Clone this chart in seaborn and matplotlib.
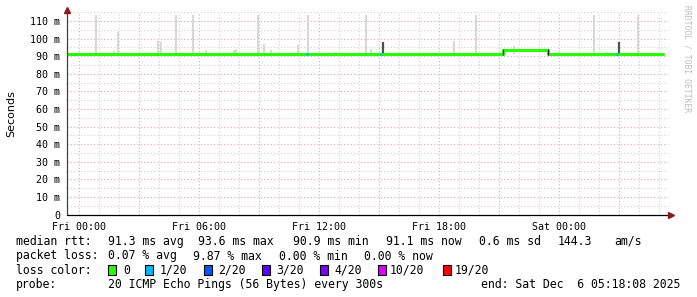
import matplotlib
matplotlib.use("Agg")
import matplotlib.pyplot as plt
from matplotlib.patches import Rectangle
import seaborn as sns
import numpy as np
import pandas as pd

# ---------------- data (hours since Fri 00:00) ----------------
median_hours = [-0.6, 21.2, 23.45, 29.18]
median_rtt = [91.2, 93.5, 91.2, 91.2]

smoke_hours = [0.825, 1.725, 1.925, 3.925, 4.075, 4.825, 5.675, 6.325, 7.725, 7.825,
               8.925, 9.225, 9.575, 10.925, 11.425, 12.825, 14.325, 14.575, 18.725,
               19.825, 21.725, 25.725, 26.375, 27.95]
smoke_tops = [113.4, 93.0, 104.0, 98.6, 98.0, 113.4, 113.4, 93.5, 93.5, 94.0,
              113.4, 97.0, 93.5, 96.4, 113.4, 92.5, 113.4, 94.0, 98.6,
              113.4, 95.8, 113.4, 92.5, 113.4]

dark_hours = [15.175, 26.975]
dark_tops = [98.0, 98.0]

loss_hours = [11.4, 15.1, 26.9]

xtick_hours = [0, 6, 12, 18, 24]
xtick_labels = ["Fri 00:00", "Fri 06:00", "Fri 12:00", "Fri 18:00", "Sat 00:00"]
ytick_vals = [0, 10, 20, 30, 40, 50, 60, 70, 80, 90, 100, 110]
ytick_labels = ["0"] + [f"{v} m" for v in ytick_vals[1:]]

loss_labels = ["0", "1/20", "2/20", "3/20", "4/20", "10/20", "19/20"]
loss_colors = ["#26ff00", "#00b8ff", "#0059ff", "#5e00ff", "#7e00ff", "#dd00ff", "#ff0000"]

# ---------------- figure ----------------
sns.set_theme(style="white")
plt.rcParams["font.family"] = ["DejaVu Sans Mono"]

W, H = 697, 297
fig = plt.figure(figsize=(W / 100, H / 100), dpi=100)
fig.patch.set_facecolor("white")

x_left_px, x_right_px = 67, 668
y_zero_px, y_top_px = 214.6, 12.2
ax = fig.add_axes([x_left_px / W, (H - y_zero_px) / H,
                   (x_right_px - x_left_px) / W, (y_zero_px - y_top_px) / H])
ax.set_facecolor("white")
xmin, xmax = -0.6, 29.45
ax.set_xlim(xmin, xmax)
ax.set_ylim(0, 115)

# grid
dot = (0, (1, 2))
for h in np.arange(0, 30, 1):
    major = (h % 3 == 0)
    ax.axvline(h, color="#E3A8A8" if major else "#D0D0D0", lw=0.8, ls=dot, zorder=0)
for v in np.arange(5, 116, 5):
    major = (v % 10 == 0)
    ax.axhline(v, color="#E3A8A8" if major else "#D0D0D0", lw=0.8, ls=dot, zorder=0)

# smoke
ax.vlines(smoke_hours, [median_rtt[0]] * len(smoke_hours), smoke_tops,
          colors="#D8D8D8", lw=1.5, zorder=1)
ax.vlines(dark_hours, [median_rtt[0]] * len(dark_hours), dark_tops,
          colors="#505050", lw=1.6, zorder=1)

# median line
df = pd.DataFrame({"hour": median_hours, "rtt": median_rtt})
sns.lineplot(data=df, x="hour", y="rtt", ax=ax, color=loss_colors[0], lw=2.2,
             drawstyle="steps-post", zorder=3, sort=False)
ax.vlines([median_hours[1], median_hours[2]], median_rtt[0] - 0.8, median_rtt[1] + 0.5,
          colors="#202020", lw=0.9, zorder=4)
for lh in loss_hours:
    ax.hlines(median_rtt[0], lh - 0.07, lh + 0.07, colors=loss_colors[1], lw=2.2, zorder=5)

# axes cosmetics
for s in ax.spines.values():
    s.set_visible(False)
ax.plot([xmin, xmin], [0, 116.5], color="#404040", lw=0.9, clip_on=False, zorder=6)
ax.plot([xmin, 29.5], [0, 0], color="black", lw=0.9, clip_on=False, zorder=6)
ax.plot([xmin], [116.5], marker="^", color="#8B1A1A", ms=4, clip_on=False, zorder=7)
ax.plot([29.6], [0], marker=">", color="#8B1A1A", ms=4, clip_on=False, zorder=7)

ax.set_xticks(xtick_hours)
ax.set_xticklabels(xtick_labels, fontsize=7.2)
ax.set_yticks(ytick_vals)
ax.set_yticklabels(ytick_labels, fontsize=7.2)
ax.tick_params(axis="both", length=0, colors="black")
ax.tick_params(axis="y", pad=5)
ax.tick_params(axis="x", pad=5)
ax.set_xlabel("")
ax.set_ylabel("")

fig.text(11 / W, 1 - 114 / H, "Seconds", rotation=90, ha="center", va="center",
         fontsize=8, family="DejaVu Sans", color="black")
fig.text(687 / W, 1 - 5 / H, "RRDTOOL / TOBI OETIKER", rotation=-90, ha="center",
         va="top", fontsize=5.8, color="#BDBDBD")

# ---------------- legend text ----------------
fs = 8.3
def txt(x, y, s):
    fig.text(x / W, 1 - y / H, s, ha="left", va="center", fontsize=fs, color="black")

y1, y2, y3, y4 = 241.5, 256, 270, 284.5
txt(16, y1, "median rtt:")
for x, s in [(107.6, "91.3 ms avg"), (198, "93.6 ms max"), (293, "90.9 ms min"),
             (386, "91.1 ms now"), (479, "0.6 ms sd"), (558, "144.3"), (614, "am/s")]:
    txt(x, y1, s)
txt(16, y2, "packet loss:")
for x, s in [(107.6, "0.07 % avg"), (193, "9.87 % max"), (279, "0.00 % min"), (364.4, "0.00 % now")]:
    txt(x, y2, s)
txt(16, y3, "loss color:")
box_x = [108.4, 145.3, 203.6, 261.8, 320, 377.8, 442.7]
lab_x = [123, 160, 217.8, 276, 334, 389.8, 454.2]
for bx, lx, lab, c in zip(box_x, lab_x, loss_labels, loss_colors):
    fig.add_artist(Rectangle((bx / W, 1 - (y3 + 5) / H), 8 / W, 10 / H,
                             transform=fig.transFigure, facecolor=c,
                             edgecolor="black", lw=0.8))
    txt(lx, y3, lab)
txt(16, y4, "probe:")
txt(107.6, y4, "20 ICMP Echo Pings (56 Bytes) every 300s")
fig.text(680 / W, 1 - y4 / H, "end: Sat Dec  6 05:18:08 2025", ha="right", va="center",
         fontsize=fs, color="black")

fig.savefig("out.png", dpi=100)
